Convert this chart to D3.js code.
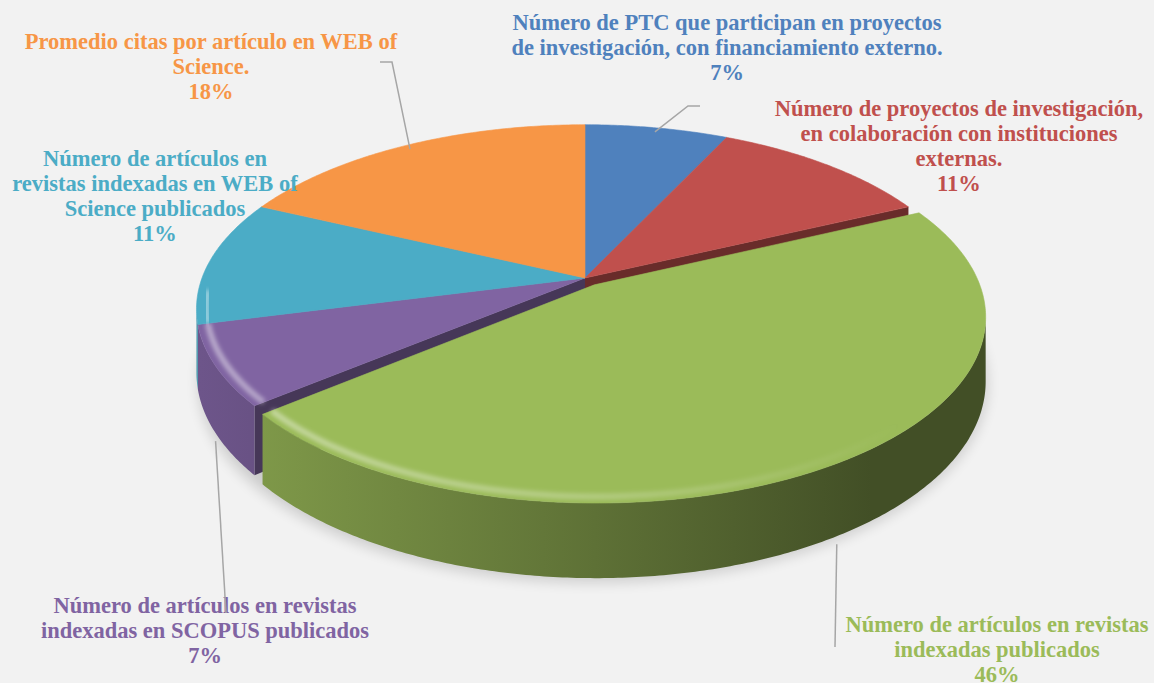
<!DOCTYPE html>
<html>
<head>
<meta charset="utf-8">
<script src="https://cdn.jsdelivr.net/npm/d3@7"></script>
<style>
  body { margin: 0; background: #f2f2f2; }
  svg { display: block; }
  text { font-family: "Liberation Serif", "DejaVu Serif", serif; font-weight: bold; }
</style>
</head>
<body>
<script>
// categories, split into the lines used by the chart labels
const categories = [
  ["Número de PTC que participan en proyectos", "de investigación, con financiamiento externo."],
  ["Número de proyectos de investigación,", "en colaboración con instituciones", "externas."],
  ["Número de artículos en revistas", "indexadas publicados"],
  ["Número de artículos en revistas", "indexadas en SCOPUS publicados"],
  ["Número de artículos en", "revistas indexadas en WEB of", "Science publicados"],
  ["Promedio citas por artículo en WEB of", "Science."]
];
const values = [7, 11, 46, 7, 11, 18];
const colors = ["#4f81bd", "#c0504d", "#9bbb59", "#8064a2", "#4bacc6", "#f79646"];
const exploded = [false, false, true, false, false, false];

// layout
const W = 1154, H = 683;
const CX = 585, CY = 278, RX = 383, RY = 179, P = 0.168, DEPTH = 62, EXPLODE = 0.045;
const LINE_H = 25;
const labelPos = [[727, 30], [959, 116], [997, 632], [205, 613], [155, 166], [211, 49]];
const leaderEnds = [[[688, 106], [700, 106]], null, [[835, 647]], [[226, 613]], null, [[392, 62], [380, 62]]];

const svg = d3.select('body').append('svg')
  .attr('width', W)
  .attr('height', H);

const defs = svg.append('defs');
defs.append('filter').attr('id', 'shadow')
  .attr('x', '-20%').attr('y', '-20%').attr('width', '140%').attr('height', '140%')
  .append('feGaussianBlur').attr('stdDeviation', 7);
defs.append('filter').attr('id', 'soft')
  .attr('x', '-10%').attr('y', '-10%').attr('width', '120%').attr('height', '120%')
  .append('feGaussianBlur').attr('stdDeviation', 2);

// bevel highlight fades out towards the right, like the light comes from the left
const bevel = defs.append('linearGradient')
  .attr('id', 'bevel')
  .attr('gradientUnits', 'userSpaceOnUse')
  .attr('x1', 200).attr('x2', 900).attr('y1', 0).attr('y2', 0);
bevel.append('stop').attr('offset', 0).attr('stop-color', '#fff').attr('stop-opacity', 0.45);
bevel.append('stop').attr('offset', 0.55).attr('stop-color', '#fff').attr('stop-opacity', 0.25);
bevel.append('stop').attr('offset', 1).attr('stop-color', '#fff').attr('stop-opacity', 0);

const total = d3.sum(values);
const pct = d3.format('.0%');
const arcs = d3.pie().sort(null).value(d => d)(values);

// perspective projection of a point on the unit pie plane
function proj(X, Z, down) {
  const k = 1 / (1 + P * Z);
  return [CX + RX * X * k, CY - RY * Z * k + (down ? DEPTH * k : 0)];
}

arcs.forEach((a, i) => {
  const mid = (a.startAngle + a.endAngle) / 2;
  a.ox = exploded[i] ? EXPLODE * Math.sin(mid) : 0;
  a.oz = exploded[i] ? EXPLODE * Math.cos(mid) : 0;
  a.pt = (t, r, down) => proj(r * Math.sin(t) + a.ox, r * Math.cos(t) + a.oz, down);
  a.rim = (t0, t1, down) => {
    const n = Math.max(2, Math.ceil((t1 - t0) / 0.01));
    return d3.range(n + 1).map(j => a.pt(t0 + (t1 - t0) * j / n, 1, down));
  };
});

const line = d3.line();
const SIL0 = Math.acos(-P), SIL1 = 2 * Math.PI - Math.acos(-P);

// side gradients
arcs.forEach((a, i) => {
  const g = defs.append('linearGradient')
    .attr('id', 'side' + i)
    .attr('gradientUnits', 'userSpaceOnUse')
    .attr('x1', 200).attr('x2', 990).attr('y1', 0).attr('y2', 0);
  [[0, 0.45], [0.5, 1.4], [0.85, 2.4], [1, 2.4]].forEach(s => {
    g.append('stop').attr('offset', s[0]).attr('stop-color', d3.color(colors[i]).darker(s[1]));
  });
});

// shadow under the pie
const shadowPts = d3.range(0, 2 * Math.PI + 0.01, 0.02).map(t => {
  const p = proj(Math.sin(t) * 1.01 + 0.01, Math.cos(t) * 1.01 - 0.02, true);
  return [p[0] + 4, p[1] + 6];
});
svg.append('path')
  .attr('d', line(shadowPts) + 'Z')
  .attr('fill', '#000')
  .attr('opacity', 0.16)
  .attr('filter', 'url(#shadow)');

function drawSlice(g, a, i) {
  const n = arcs.length;
  // radial walls facing an exploded gap
  const walls = [];
  if (Math.sin(a.startAngle) < 0 && exploded[i] !== exploded[(i - 1 + n) % n]) walls.push(a.startAngle);
  if (Math.sin(a.endAngle) > 0 && exploded[i] !== exploded[(i + 1) % n]) walls.push(a.endAngle);
  walls.forEach(t => {
    g.append('path')
      .attr('d', line([a.pt(t, 0, false), a.pt(t, 1, false), a.pt(t, 1, true), a.pt(t, 0, true)]) + 'Z')
      .attr('fill', d3.color(colors[i]).darker(1.7));
  });
  // outer curved wall
  const t0 = Math.max(a.startAngle, SIL0), t1 = Math.min(a.endAngle, SIL1);
  if (t1 > t0) {
    const top = a.rim(t0, t1, false), bot = a.rim(t0, t1, true).reverse();
    g.append('path')
      .attr('d', line(top.concat(bot)) + 'Z')
      .attr('fill', `url(#side${i})`);
  }
}

function drawTop(g, a, i) {
  const pts = [a.pt(0, 0, false)].concat(a.rim(a.startAngle, a.endAngle, false));
  g.append('path')
    .attr('d', line(pts) + 'Z')
    .attr('fill', colors[i])
    .attr('stroke', colors[i])
    .attr('stroke-width', 0.6);
  // soft bevel along the front rim
  const t0 = Math.max(a.startAngle, SIL0 - 0.1), t1 = Math.min(a.endAngle, SIL1 + 0.1);
  if (t1 > t0) {
    const rimPts = d3.range(0, 1.0001, 0.01).map(f => a.pt(t0 + (t1 - t0) * f, 0.975, false));
    g.append('path')
      .attr('d', line(rimPts))
      .attr('fill', 'none')
      .attr('stroke', 'url(#bevel)')
      .attr('stroke-width', 6)
      .attr('filter', 'url(#soft)');
  }
}

const back = svg.append('g');
arcs.forEach((a, i) => { if (!exploded[i]) drawSlice(back, a, i); });
arcs.forEach((a, i) => { if (!exploded[i]) drawTop(back, a, i); });
const front = svg.append('g');
arcs.forEach((a, i) => { if (exploded[i]) { drawSlice(front, a, i); drawTop(front, a, i); } });

// labels
arcs.forEach((a, i) => {
  const lines = categories[i].concat([pct(values[i] / total)]);
  const t = svg.append('text')
    .attr('text-anchor', 'middle')
    .attr('font-size', 22.5)
    .attr('fill', colors[i]);
  lines.forEach((s, j) => {
    t.append('tspan')
      .attr('x', labelPos[i][0])
      .attr('y', labelPos[i][1] + j * LINE_H)
      .text(s);
  });
});

// leader lines
arcs.forEach((a, i) => {
  if (!leaderEnds[i]) return;
  const mid = (a.startAngle + a.endAngle) / 2;
  const frontSide = Math.cos(mid) < 0;
  const start = frontSide ? a.pt(mid, 1, true) : a.pt(mid, 0.97, false);
  if (frontSide) start[1] += 8;
  svg.append('path')
    .attr('d', line([start].concat(leaderEnds[i])))
    .attr('fill', 'none')
    .attr('stroke', '#a6a6a6')
    .attr('stroke-width', 1.5);
});
</script>
</body>
</html>
